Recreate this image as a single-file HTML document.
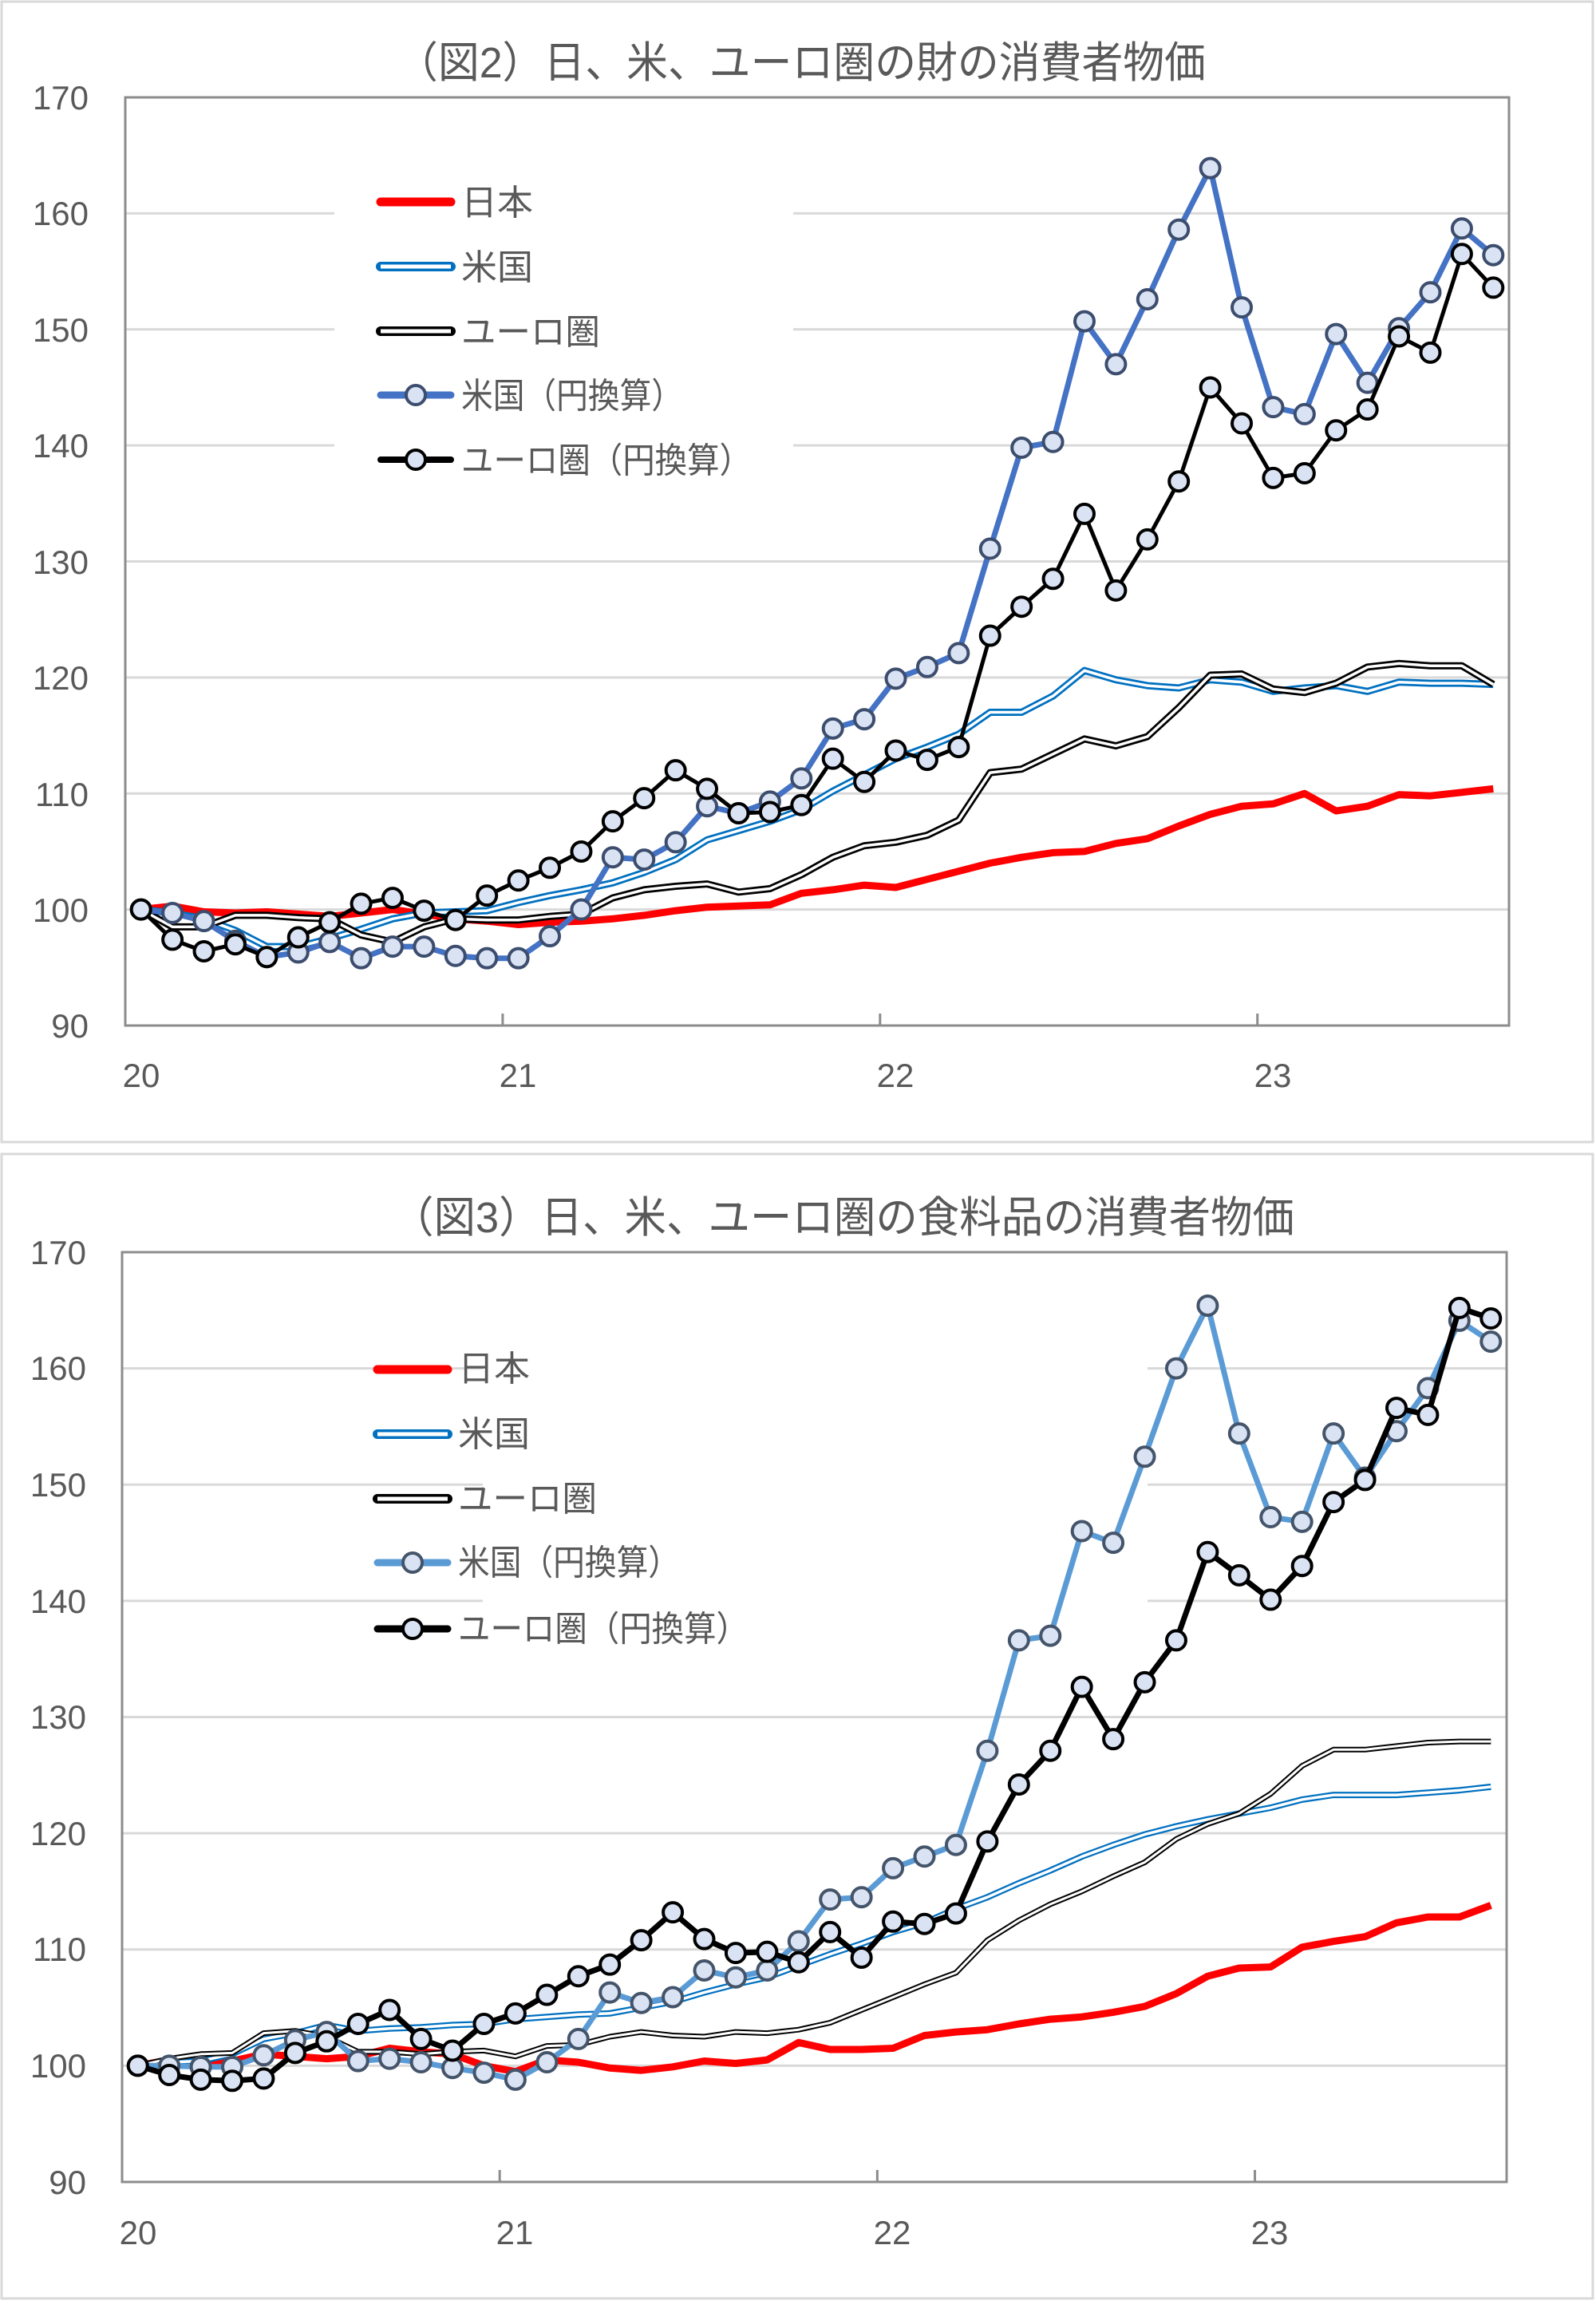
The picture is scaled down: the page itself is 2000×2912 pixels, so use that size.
<!DOCTYPE html>
<html><head><meta charset="utf-8">
<style>
html,body{margin:0;padding:0;background:#fff;}
svg{display:block;}
text{font-family:"Liberation Sans","Noto Sans CJK JP",sans-serif;fill:#595959;}
</style></head>
<body>
<svg id="s" width="2000" height="2912" viewBox="0 0 2000 2912" xmlns="http://www.w3.org/2000/svg">
<rect x="0" y="0" width="2000" height="2912" fill="#fff"/>
<rect x="2" y="2" width="1994" height="1429" fill="none" stroke="#d9d9d9" stroke-width="3"/>
<rect x="2" y="1446" width="1994" height="1434" fill="none" stroke="#d9d9d9" stroke-width="3"/>
<text x="497" y="97" font-size="54" textLength="1014" lengthAdjust="spacingAndGlyphs">（図2）日、米、ユーロ圏の財の消費者物価</text>
<text x="491" y="1544" font-size="54" textLength="1131" lengthAdjust="spacingAndGlyphs">（図3）日、米、ユーロ圏の食料品の消費者物価</text>
<g id="c1"></g>
<g id="c2"></g>
<g font-size="44" lengthAdjust="spacingAndGlyphs">
<text x="578" y="269" textLength="90" lengthAdjust="spacingAndGlyphs">日本</text><text x="578" y="350" textLength="90" lengthAdjust="spacingAndGlyphs">米国</text><text x="578" y="431" textLength="174" lengthAdjust="spacingAndGlyphs">ユーロ圏</text><text x="578" y="511" textLength="278" lengthAdjust="spacingAndGlyphs">米国（円換算）</text><text x="578" y="592" textLength="364" lengthAdjust="spacingAndGlyphs">ユーロ圏（円換算）</text>
<text x="574" y="1730" textLength="90" lengthAdjust="spacingAndGlyphs">日本</text><text x="574" y="1812" textLength="90" lengthAdjust="spacingAndGlyphs">米国</text><text x="574" y="1893" textLength="174" lengthAdjust="spacingAndGlyphs">ユーロ圏</text><text x="574" y="1973" textLength="278" lengthAdjust="spacingAndGlyphs">米国（円換算）</text><text x="574" y="2056" textLength="364" lengthAdjust="spacingAndGlyphs">ユーロ圏（円換算）</text>
</g>
<g font-size="42" text-anchor="end">
<text x="111" y="137">170</text><text x="111" y="282">160</text><text x="111" y="428">150</text><text x="111" y="573">140</text><text x="111" y="719">130</text><text x="111" y="864">120</text><text x="111" y="1010">110</text><text x="111" y="1155">100</text><text x="111" y="1300">90</text>
<text x="108" y="1584">170</text><text x="108" y="1729">160</text><text x="108" y="1875">150</text><text x="108" y="2021">140</text><text x="108" y="2166">130</text><text x="108" y="2312">120</text><text x="108" y="2457">110</text><text x="108" y="2603">100</text><text x="108" y="2749">90</text>
</g>
<g font-size="42" text-anchor="middle">
<text x="177" y="1362">20</text><text x="649" y="1362">21</text><text x="1122" y="1362">22</text><text x="1595" y="1362">23</text>
<text x="173" y="2812">20</text><text x="645" y="2812">21</text><text x="1118" y="2812">22</text><text x="1591" y="2812">23</text>
</g>
</svg>
<script>
var NS="http://www.w3.org/2000/svg";
function el(p,t,a){var e=document.createElementNS(NS,t);for(var k in a)e.setAttribute(k,a[k]);p.appendChild(e);return e;}
function chart(gid,L,T,R,B,data,lg,styles){
 var g=document.getElementById(gid);var step=(R-L)/44;
 function X(i){return L+step*(i+0.5);} function Y(v){return B-(v-90)/80*(B-T);}
 for(var v=100;v<=170;v+=10){var y=Y(v);
  if(v>=140&&v<=160){el(g,'line',{x1:L,x2:lg[0],y1:y,y2:y,stroke:'#d9d9d9','stroke-width':3});el(g,'line',{x1:lg[1],x2:R,y1:y,y2:y,stroke:'#d9d9d9','stroke-width':3});}
  else el(g,'line',{x1:L,x2:R,y1:y,y2:y,stroke:'#d9d9d9','stroke-width':3});}
 el(g,'rect',{x:L,y:T,width:R-L,height:B-T,fill:'none',stroke:'#8c8c8c','stroke-width':3});
 for(var k=0;k<4;k++){var x=L+step*12*k;el(g,'line',{x1:x,x2:x,y1:B,y2:B-15,stroke:'#8c8c8c','stroke-width':3});}
 function pts(a){return a.map(function(v,i){return X(i).toFixed(1)+','+Y(v).toFixed(1);}).join(' ');}
 data.forEach(function(d,j){var s=styles[j];
  if(s.dbl){el(g,'polyline',{points:pts(d),fill:'none',stroke:s.c,'stroke-width':s.w,'stroke-linejoin':'round'});
   el(g,'polyline',{points:pts(d),fill:'none',stroke:'#fff','stroke-width':s.iw,'stroke-linejoin':'round'});}
  else el(g,'polyline',{points:pts(d),fill:'none',stroke:s.c,'stroke-width':s.w,'stroke-linejoin':'round'});
  if(s.m)d.forEach(function(v,i){el(g,'circle',{cx:X(i),cy:Y(v),r:12,fill:'#dae3f3',stroke:s.m,'stroke-width':4});});
 });
 styles.forEach(function(s,j){var y=lg[3][j];var x1=lg[4],x2=x1+88;
  if(s.dbl){el(g,'line',{x1:x1,x2:x2,y1:y,y2:y,stroke:s.c,'stroke-width':12,'stroke-linecap':'round'});el(g,'line',{x1:x1,x2:x2,y1:y,y2:y,stroke:'#fff','stroke-width':5});}
  else el(g,'line',{x1:x1,x2:x2,y1:y,y2:y,stroke:s.c,'stroke-width':s.lw||s.w,'stroke-linecap':'round'});
  if(s.m)el(g,'circle',{cx:(x1+x2)/2,cy:y,r:12,fill:'#dae3f3',stroke:s.m,'stroke-width':4});
 });
}
var d1=[
[100,100.3,99.8,99.7,99.8,99.6,99.4,99.7,100,99.6,99.2,99.0,98.7,98.9,99.0,99.2,99.5,99.9,100.2,100.3,100.4,101.4,101.7,102.1,101.9,102.6,103.3,104.0,104.5,104.9,105.0,105.7,106.1,107.2,108.2,108.9,109.1,110.0,108.5,108.9,109.9,109.8,110.1,110.4],
[100,99.7,99.2,98.2,96.8,96.8,97.5,98.3,99.2,99.7,99.8,99.9,100.6,101.2,101.7,102.3,103.2,104.3,106,106.8,107.6,108.6,110.2,111.6,113,114,115.1,117,117,118.4,120.6,119.8,119.3,119.1,119.8,119.6,118.8,119.1,119.3,118.8,119.6,119.5,119.5,119.4],
[100,98.5,98.5,99.5,99.5,99.3,99.2,97.8,97.2,98.5,99.2,99.1,99.1,99.4,99.6,101,101.7,102,102.2,101.5,101.8,103,104.5,105.5,105.8,106.4,107.7,111.8,112.1,113.4,114.7,114.1,114.9,117.4,120.2,120.3,119,118.7,119.5,120.9,121.2,121,121,119.4],
[100,99.7,99,97.3,95.9,96.3,97.2,95.8,96.8,96.8,96,95.8,95.8,97.7,100,104.5,104.3,105.8,108.9,108.3,109.3,111.3,115.6,116.4,119.9,120.9,122.1,131.1,139.8,140.3,150.7,147,152.6,158.6,163.9,151.9,143.3,142.7,149.6,145.4,150.1,153.2,158.7,156.4],
[100,97.4,96.4,97,95.9,97.6,98.9,100.5,101,99.9,99.1,101.2,102.5,103.6,105,107.6,109.6,112,110.4,108.3,108.4,109,113,111,113.7,112.9,114,123.6,126.1,128.5,134.1,127.5,131.9,136.9,145,141.9,137.2,137.6,141.3,143.1,149.4,148,156.5,153.6]];
var d2=[
[100,100.5,100.3,100.4,101,100.8,100.6,100.8,101.5,101.2,101,100,99.5,100.5,100.3,99.8,99.6,99.9,100.4,100.2,100.5,102,101.4,101.4,101.5,102.6,102.9,103.1,103.6,104,104.2,104.6,105.1,106.2,107.7,108.4,108.5,110.2,110.7,111.1,112.3,112.8,112.8,113.8],
[100,100.3,100.4,101,102.3,102.8,103.5,103,103.2,103.3,103.5,103.6,104,104.2,104.4,104.5,105,105.5,106.3,107,107.6,108.6,109.6,110.5,111.5,112.3,113.5,114.5,115.7,116.8,118,119,119.9,120.6,121.2,121.7,122.2,122.9,123.3,123.3,123.3,123.5,123.7,124],
[100,100.6,101,101.1,102.8,103,102.5,101.2,101.2,101,101.2,101.3,100.8,101.7,101.8,102.5,102.9,102.6,102.5,102.9,102.8,103.1,103.7,104.8,105.9,107,108,110.8,112.5,113.9,115,116.3,117.5,119.5,120.8,121.7,123.4,125.8,127.2,127.2,127.5,127.8,127.9,127.9],
[100,100,99.9,99.9,100.9,102.2,102.9,100.4,100.6,100.3,99.8,99.4,98.8,100.3,102.3,106.3,105.4,105.9,108.2,107.6,108.2,110.7,114.3,114.5,117,118,119,127.1,136.6,137,146,145,152.4,160,165.4,154.4,147.2,146.8,154.4,150.6,154.6,158.3,164.1,162.3],
[100,99.2,98.8,98.7,98.9,101.1,102.1,103.6,104.8,102.3,101.3,103.6,104.5,106.1,107.7,108.7,110.8,113.2,110.9,109.7,109.8,108.9,111.5,109.3,112.4,112.2,113.1,119.3,124.2,127.1,132.6,128.1,133,136.6,144.2,142.2,140.1,143,148.5,150.4,156.6,156,165.2,164.3]];
chart('c1',157,122,1891,1285,d1,[419,994,0,[253,334,415,495,576],477],
 [{c:'#ff0000',w:9,lw:11},{c:'#0070c0',w:9,iw:3.5,dbl:1},{c:'#000',w:9,iw:3.5,dbl:1},{c:'#4472c4',w:7,lw:9,m:'#3c4d6e'},{c:'#000',w:5,lw:8,m:'#000'}]);
chart('c2',153,1569,1888,2734,d2,[605,1438,0,[1716,1797,1878,1958,2041],473],
 [{c:'#ff0000',w:9,lw:11},{c:'#0070c0',w:8,iw:3.5,dbl:1},{c:'#000',w:7,iw:3,dbl:1},{c:'#5b9bd5',w:7,lw:9,m:'#44546a'},{c:'#000',w:7,lw:9,m:'#000'}]);
</script>
</body></html>
